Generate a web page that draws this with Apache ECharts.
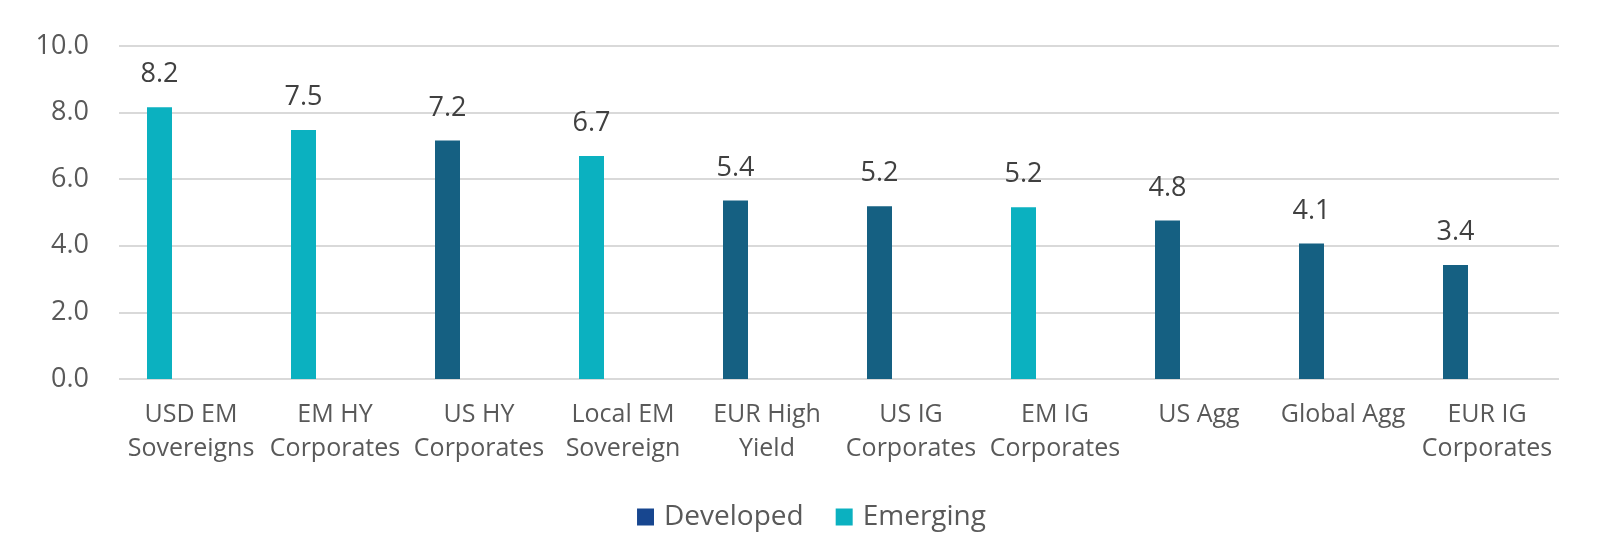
<!DOCTYPE html>
<html>
  <head>
    <meta charset="utf-8">
    <title></title>
    <style>
    html, body {margin:0; padding:0; background:#fff}
    #chart {width:1623px; height:556px}
    </style>
    <script src="https://cdn.jsdelivr.net/npm/echarts@6/dist/echarts.min.js"></script>
  </head>
  <body>
    <div id="chart"></div>
    <script>
    const categories=['USD EM\nSovereigns', 'EM HY\nCorporates', 'US HY\nCorporates', 'Local EM\nSovereign', 'EUR High\nYield',
      'US IG\nCorporates', 'EM IG\nCorporates', 'US Agg', 'Global Agg', 'EUR IG\nCorporates'];
    const developed=['-', '-', 7.16, '-', 5.36, 5.19, '-', 4.76, 4.07, 3.42];
    const emerging=[8.16, 7.48, '-', 6.70, '-', '-', 5.16, '-', '-', '-'];
    const yTicks=[0, 2, 4, 6, 8, 10];

    const font='"Open Sans", sans-serif';
    const valueLabel={
      show: true,
      position: 'top',
      distance: 19,
      fontFamily: font,
      fontSize: 27,
      color: '#404040',
      formatter: p=>p.value.toFixed(1)
    };

    let chart=echarts.init(document.getElementById('chart'));
    chart.setOption({
      animation: false,
      grid: {left: 119, right: 64, top: 46, bottom: 177},
      legend: {
        data: [
          {name: 'Developed', itemStyle: {color: '#17468f'}},
          {name: 'Emerging', itemStyle: {color: '#0bb1c0'}}
        ],
        left: 'center',
        top: 498,
        icon: 'rect',
        itemWidth: 17,
        itemHeight: 17,
        itemGap: 32,
        textStyle: {fontFamily: font, fontSize: 28, color: '#595959', padding: [0, 0, 0, 5]}
      },
      xAxis: {
        type: 'category',
        data: categories,
        axisLine: {show: false},
        axisTick: {show: false},
        axisLabel: {
          interval: 0,
          margin: 19,
          fontFamily: font,
          fontSize: 25,
          lineHeight: 34,
          color: '#595959'
        }
      },
      yAxis: {
        type: 'value',
        min: yTicks[0],
        max: yTicks[yTicks.length-1],
        interval: 2,
        axisLabel: {
          margin: 30,
          fontFamily: font,
          fontSize: 27,
          color: '#595959',
          formatter: v=>v.toFixed(1)
        },
        splitLine: {lineStyle: {color: '#d9d9d9', width: 2}}
      },
      series: [
        {
          name: 'Developed',
          type: 'bar',
          stack: 'v',
          data: developed,
          barWidth: 25,
          barGap: '152%',
          itemStyle: {color: '#156082'},
          label: valueLabel
        },
        {
          name: 'Emerging',
          type: 'bar',
          stack: 'v',
          data: emerging,
          barWidth: 25,
          itemStyle: {color: '#0bb1c0'},
          label: valueLabel
        },
        {
          name: 'pad',
          type: 'bar',
          stack: 'pad',
          data: categories.map(()=>'-'),
          barWidth: 25,
          barGap: '152%'
        }
      ]
    });
    </script>
  </body>
</html>
